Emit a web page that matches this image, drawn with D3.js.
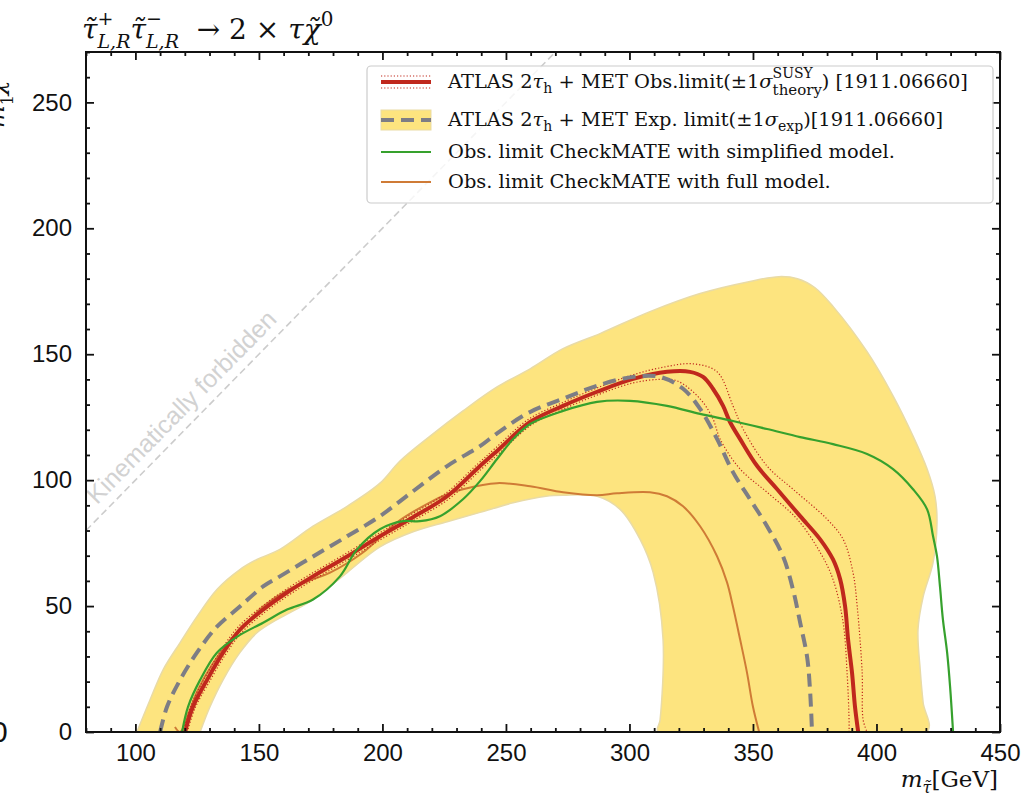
<!DOCTYPE html>
<html><head><meta charset="utf-8">
<script src="https://cdn.jsdelivr.net/npm/d3@7"></script>
<style>body{margin:0;background:#fff}svg{display:block}</style>
</head><body>
<svg id="c" width="1025" height="800"></svg>
<script>
// ---------------- data (m_stau [GeV], m_chi [GeV]) ----------------
const xMajor = [100,150,200,250,300,350,400,450];
const yMajor = [0,50,100,150,200,250];
const kinematicLine = [[80,80],[270,270]];
// expected +-1 sigma band : upper/outer edge (left to right), then inner edge (right to left)
const bandOuter = [[100.6,0],[105.9,12.7],[111.2,24.7],[118.1,35.5],[124.9,45.8],[133.0,56.6],[142.3,64.5],[149.2,68.5],[158.5,72.5],[171.9,81.7],[185.7,89.6],[199.0,98.8],[207.1,107.6],[219.3,117.5],[232.6,127.5],[246.4,137.0],[259.8,144.2],[273.1,152.2],[288.1,158.2],[308.3,166.9],[328.6,174.1],[348.8,178.9],[360.5,180.8],[368.0,180.0],[375.0,176.5],[382.4,169.0],[396.2,151.0],[406.7,133.5],[414.8,117.5],[420.5,104.4],[423.7,93.6],[424.5,83.3],[422.9,67.3],[418.9,53.8],[416.8,40.6],[417.7,24.7],[418.9,11.6],[420.5,0]];
const bandInner = [[311.6,0],[312.4,4.8],[313.6,36.7],[309.6,63.3],[304.3,76.5],[296.2,88.4],[286.9,93.6],[273.1,94.0],[266.2,93.6],[252.9,91.0],[239.5,87.2],[226.2,83.5],[212.4,79.5],[199.0,73.5],[185.7,63.3],[171.9,52.6],[162.6,47.4],[157.3,44.6],[149.2,39.4],[142.3,31.5],[135.5,20.7],[130.2,10.0],[126.2,0]];
const expLimit = [[110.0,0],[112.8,10.0],[118.1,20.7],[124.9,31.5],[133.0,41.8],[142.3,49.8],[151.7,57.8],[158.5,61.8],[171.9,69.7],[185.7,77.7],[199.0,85.7],[212.4,95.6],[226.2,105.6],[239.5,113.5],[246.4,118.6],[259.8,127.1],[273.1,132.3],[286.9,137.5],[301.5,141.0],[312.4,141.0],[321.7,136.3],[328.6,128.3],[335.5,116.3],[341.9,103.2],[348.8,92.4],[355.7,81.7],[362.2,69.7],[366.2,56.6],[369.1,43.4],[371.9,29.9],[373.1,16.7],[373.9,0]];
const obsLimit = [[120.1,0],[123.3,10.0],[129.0,20.7],[135.5,31.5],[142.3,40.6],[151.7,48.6],[161.4,55.4],[171.9,61.8],[185.7,69.7],[199.0,77.7],[212.4,85.3],[226.2,93.6],[239.5,105.6],[246.4,111.6],[259.8,123.1],[273.1,129.5],[286.9,135.1],[301.5,140.2],[315.2,143.0],[324.5,143.0],[329.8,141.0],[333.8,136.3],[337.9,129.5],[340.7,123.1],[344.8,116.3],[351.7,105.6],[359.8,96.4],[369.1,85.7],[377.2,76.5],[382.4,68.5],[385.3,60.6],[387.3,49.8],[388.5,36.7],[390.1,23.5],[391.3,10.0],[392.6,0]];
const obsUp = [[119.3,0],[122.5,10.6],[128.2,21.7],[134.7,32.5],[141.5,41.6],[150.9,49.6],[160.6,56.4],[171.1,62.8],[184.9,70.7],[198.2,78.7],[211.6,86.3],[225.4,94.6],[238.7,106.6],[245.6,112.6],[259.0,124.1],[272.3,130.5],[286.1,136.3],[300.7,141.6],[314.5,145.0],[325.7,146.2],[335.5,143.0],[341.9,129.5],[346.0,120.3],[355.7,105.6],[366.2,96.4],[380.0,84.5],[386.5,76.5],[390.5,63.3],[392.2,49.8],[394.2,23.5],[394.6,4.8],[396.2,0]];
const obsDown = [[121.0,0],[124.1,9.4],[129.8,19.7],[136.3,30.5],[143.1,39.6],[152.5,47.6],[162.2,54.4],[172.7,60.8],[186.5,68.7],[199.8,76.7],[213.2,84.3],[227.0,92.6],[240.3,104.6],[247.2,110.6],[260.6,122.1],[273.9,128.5],[287.5,134.0],[301.5,138.6],[312.0,140.0],[319.3,139.4],[328.6,132.3],[333.8,124.3],[336.7,116.3],[344.8,104.4],[355.7,95.2],[367.9,84.5],[377.2,71.3],[382.4,60.6],[386.5,43.4],[388.1,23.5],[388.9,4.8],[388.9,0]];
const cmSimplified = [[118.9,0],[121.3,10.0],[126.2,20.7],[133.0,31.5],[141.1,37.8],[151.7,43.4],[161.4,48.6],[171.9,52.6],[182.8,61.8],[189.7,72.5],[199.0,80.5],[208.3,83.7],[215.2,83.7],[223.3,85.7],[232.6,92.4],[239.5,99.6],[246.4,108.4],[252.9,116.3],[259.8,122.3],[273.1,127.5],[286.9,131.1],[300.2,131.5],[315.2,129.5],[328.6,126.3],[341.9,123.5],[355.7,120.3],[369.1,117.1],[382.4,114.3],[396.2,110.4],[406.7,104.4],[414.8,96.4],[420.5,88.4],[422.9,77.7],[424.5,69.7],[425.7,57.8],[426.9,44.6],[428.6,31.5],[429.8,17.9],[431.0,0]];
const cmFull = [[116.0,2.0],[118.1,0],[121.7,8.0],[125.3,16.7],[131.0,26.7],[137.5,35.5],[144.4,42.6],[151.7,49.8],[161.4,56.2],[170.7,60.2],[178.8,63.3],[192.1,71.3],[205.9,83.3],[219.3,91.2],[226.2,94.4],[232.6,96.4],[246.4,98.8],[259.8,97.6],[273.1,95.2],[286.9,94.0],[295.0,94.8],[308.3,95.2],[315.2,93.6],[321.7,89.6],[328.6,81.7],[335.5,69.7],[339.5,59.4],[341.9,49.8],[344.8,36.7],[347.6,23.5],[350.0,10.0],[352.5,0]];
const legendLabels = ["obs","exp","Obs. limit CheckMATE with simplified model.","Obs. limit CheckMATE with full model."];

// ---------------- layout ----------------
const svg = d3.select('#c');
const X0=86, X1=1000, Y0=52, Y1=732;
const xs = d3.scaleLinear().domain([80,450]).range([X0,X1]);
const ys = d3.scaleLinear().domain([0,270]).range([Y1,Y0]);
const SANS = "'Liberation Sans', Arial, sans-serif";
const SERIF = "'DejaVu Serif', serif";
const C = {band:'#fde47f', bandEdge:'#e9dba6', red:'#c0281d', gray:'#7d7d85', green:'#36a12d', orange:'#cf7b36', kin:'#cccccc'};

svg.append('defs').append('clipPath').attr('id','clip').append('rect')
  .attr('x',X0).attr('y',Y0).attr('width',X1-X0).attr('height',Y1-Y0);
const plot = svg.append('g').attr('clip-path','url(#clip)');
const line = d3.line().x(d=>xs(d[0])).y(d=>ys(d[1])).curve(d3.curveCatmullRom.alpha(0.5));
const lineLin = d3.line().x(d=>xs(d[0])).y(d=>ys(d[1]));

// band
plot.append('path').attr('d', line(bandOuter.concat(bandInner))+'Z')
  .attr('fill',C.band).attr('stroke',C.bandEdge).attr('stroke-width',1.5);

// kinematic line + text
plot.append('path').attr('d',lineLin(kinematicLine)).attr('fill','none')
  .attr('stroke',C.kin).attr('stroke-width',1.6).attr('stroke-dasharray','7,4');
const ang = Math.atan2(ys(270)-ys(80), xs(270)-xs(80))*180/Math.PI;
plot.append('text').attr('transform',`translate(${xs(84.5)},${ys(84.5)-14}) rotate(${ang})`)
  .attr('font-family',SANS).attr('font-size',25).attr('fill','#d2d2d2').text('Kinematically forbidden');

// lines
plot.append('path').attr('d',line(cmFull)).attr('fill','none').attr('stroke',C.orange).attr('stroke-width',2);
plot.append('path').attr('d',line(obsUp)).attr('fill','none').attr('stroke',C.red).attr('stroke-width',1.2).attr('stroke-dasharray','1.2,2');
plot.append('path').attr('d',line(obsDown)).attr('fill','none').attr('stroke',C.red).attr('stroke-width',1.2).attr('stroke-dasharray','1.2,2');
plot.append('path').attr('d',line(obsLimit)).attr('fill','none').attr('stroke',C.red).attr('stroke-width',4);
plot.append('path').attr('d',line(cmSimplified)).attr('fill','none').attr('stroke',C.green).attr('stroke-width',2.2);
plot.append('path').attr('d',line(expLimit)).attr('fill','none').attr('stroke',C.gray).attr('stroke-width',4).attr('stroke-dasharray','13,7');

// axes
const minorX = d3.range(80,451,10).filter(v=>!xMajor.includes(v));
const minorY = d3.range(0,271,10).filter(v=>!yMajor.includes(v));
function axis(gen, scale, vals, size, fmt, pad, tr){
  const g = svg.append('g').attr('transform',tr)
    .call(gen(scale).tickValues(vals).tickSizeInner(size).tickSizeOuter(0).tickPadding(pad).tickFormat(fmt));
  g.select('.domain').remove();
  g.selectAll('line').attr('stroke','#111').attr('stroke-width',1.8);
  g.selectAll('text').attr('font-family',SANS).attr('font-size',24).attr('fill','#111');
  return g;
}
axis(d3.axisBottom, xs, xMajor, -8, d3.format('d'), 12, `translate(0,${Y1})`);
axis(d3.axisBottom, xs, minorX, -4, ()=> '', 0, `translate(0,${Y1})`);
axis(d3.axisTop, xs, xMajor, -8, ()=> '', 0, `translate(0,${Y0})`);
axis(d3.axisTop, xs, minorX, -4, ()=> '', 0, `translate(0,${Y0})`);
axis(d3.axisLeft, ys, yMajor, -8, d3.format('d'), 14, `translate(${X0},0)`);
axis(d3.axisLeft, ys, minorY, -4, ()=> '', 0, `translate(${X0},0)`);
axis(d3.axisRight, ys, yMajor, -8, ()=> '', 0, `translate(${X1},0)`);
axis(d3.axisRight, ys, minorY, -4, ()=> '', 0, `translate(${X1},0)`);
svg.append('rect').attr('x',X0).attr('y',Y0).attr('width',X1-X0).attr('height',Y1-Y0)
  .attr('fill','none').attr('stroke','#111').attr('stroke-width',2);

// rich text helper
function rich(parent, parts, base){
  const g = parent.append('g');
  let cx = 0;
  const place = (p, x) => {
    const t = g.append('text').attr('x',x).attr('y',p.dy||0)
      .attr('font-size',p.size||base.size).attr('font-family',base.family)
      .attr('font-style',p.it?'italic':'normal').attr('fill',base.fill||'#111')
      .style('white-space','pre').text(p.t);
    return t.node().getComputedTextLength();
  };
  parts.forEach(p=>{
    if(p.sup){ const a=place(p.sup,cx), b=place(p.sub,cx); cx+=Math.max(a,b); }
    else cx += place(p,cx);
  });
  return {g, width:cx};
}

// title
const T = rich(svg, [
  {t:'τ\u0303', it:true},
  {sup:{t:'+',size:19,dy:-14}, sub:{t:'L,R',it:true,size:19,dy:9}},
  {t:'τ\u0303', it:true},
  {sup:{t:'−',size:19,dy:-14}, sub:{t:'L,R',it:true,size:19,dy:9}},
  {t:'  → 2 × '},
  {t:'τχ\u0303', it:true},
  {t:'0', size:20, dy:-13}
], {size:28, family:SERIF});
T.g.attr('transform','translate(82,39)');

// x label
const XL = rich(svg, [{t:'m',it:true},{t:'τ\u0303',it:true,size:16,dy:6},{t:'[GeV]'}], {size:23, family:SERIF});
XL.g.attr('transform',`translate(${998-XL.width},787)`);

// cut-off y label (the reference crops it at the left edge)
const YL = rich(svg, [{t:'m',it:true},{sup:{t:'0',size:16,dy:-12},sub:{t:'1',size:16,dy:9}},{t:'χ\u0303',it:true}], {size:24, family:SERIF});
YL.g.attr('transform','translate(4,128) rotate(-90)');
svg.append('text').attr('x',-9).attr('y',742).attr('font-family',SANS).attr('font-size',30).attr('fill','#111').text('0');

// legend
const L = svg.append('g');
L.append('rect').attr('x',367).attr('y',66).attr('width',626).attr('height',137).attr('rx',4)
  .attr('fill','#fff').attr('fill-opacity',0.8).attr('stroke','#cccccc').attr('stroke-width',1.2);
const hx0=381, hx1=431, tx=448;
const rowY=[82,120,152,182];
L.append('line').attr('x1',hx0).attr('x2',hx1).attr('y1',rowY[0]).attr('y2',rowY[0]).attr('stroke',C.red).attr('stroke-width',4);
[-6,6].forEach(o=>L.append('line').attr('x1',hx0).attr('x2',hx1).attr('y1',rowY[0]+o).attr('y2',rowY[0]+o)
  .attr('stroke',C.red).attr('stroke-width',1.2).attr('stroke-dasharray','1.2,2'));
L.append('rect').attr('x',hx0).attr('y',rowY[1]-10).attr('width',hx1-hx0).attr('height',20).attr('fill',C.band).attr('stroke',C.bandEdge);
L.append('line').attr('x1',hx0).attr('x2',hx1).attr('y1',rowY[1]).attr('y2',rowY[1]).attr('stroke',C.gray).attr('stroke-width',4).attr('stroke-dasharray','13,7');
L.append('line').attr('x1',hx0).attr('x2',hx1).attr('y1',rowY[2]).attr('y2',rowY[2]).attr('stroke',C.green).attr('stroke-width',2.2);
L.append('line').attr('x1',hx0).attr('x2',hx1).attr('y1',rowY[3]).attr('y2',rowY[3]).attr('stroke',C.orange).attr('stroke-width',2.2);
const LF = {size:19.4, family:SERIF};
const r1 = rich(L, [{t:'ATLAS 2'},{t:'τ',it:true},{t:'h',size:14,dy:5},{t:' + MET Obs.limit(±1'},{t:'σ',it:true},
  {sup:{t:'SUSY',size:14,dy:-10},sub:{t:'theory',size:15,dy:7}},{t:') [1911.06660]'}], LF);
r1.g.attr('transform',`translate(${tx},${rowY[0]+6})`);
const r2 = rich(L, [{t:'ATLAS 2'},{t:'τ',it:true},{t:'h',size:14,dy:5},{t:' + MET Exp. limit(±1'},{t:'σ',it:true},
  {t:'exp',size:14,dy:5},{t:')[1911.06660]'}], LF);
r2.g.attr('transform',`translate(${tx},${rowY[1]+6})`);
const r3 = rich(L, [{t:legendLabels[2]}], LF); r3.g.attr('transform',`translate(${tx},${rowY[2]+6})`);
const r4 = rich(L, [{t:legendLabels[3]}], LF); r4.g.attr('transform',`translate(${tx},${rowY[3]+6})`);
</script>
</body></html>
